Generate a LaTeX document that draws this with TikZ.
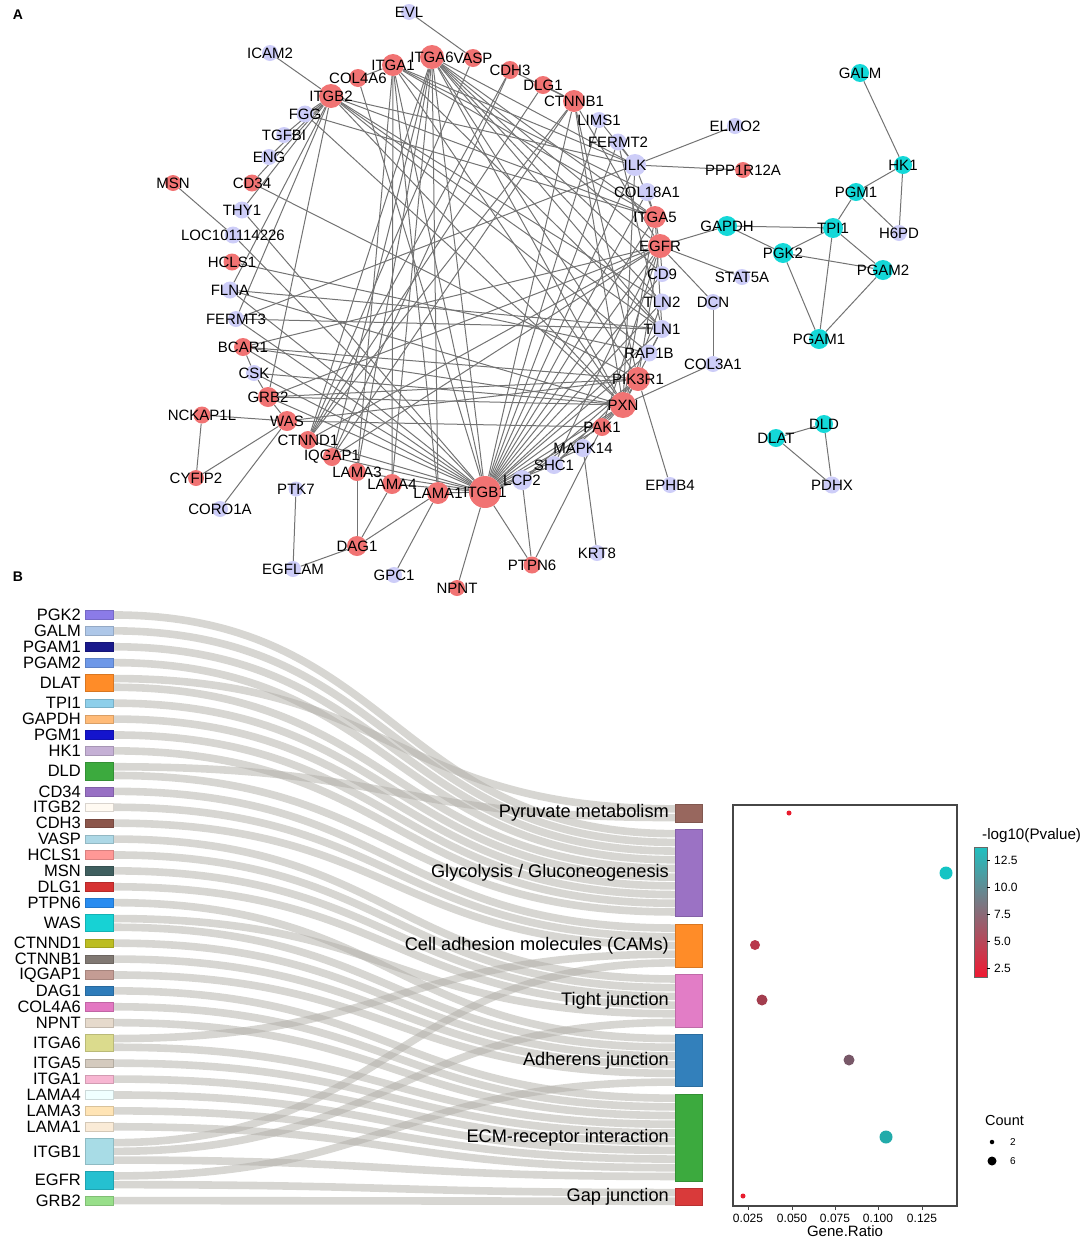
\documentclass[tikz,border=0pt]{standalone}
\usepackage{fontspec}
\setmainfont{Liberation Sans}
\pgfdeclarelayer{bg}
\pgfsetlayers{bg,main}
% network colours
\definecolor{nred}{RGB}{241,115,115}
\definecolor{nlav}{RGB}{205,205,248}
\definecolor{ncy}{RGB}{20,216,216}
\definecolor{edgec}{RGB}{115,115,115}
\definecolor{flowc}{RGB}{175,173,166}
% sankey left colours
\definecolor{cPGKtwo}{RGB}{139,123,232}
\definecolor{cGALM}{RGB}{174,199,232}
\definecolor{cPGAMone}{RGB}{25,25,140}
\definecolor{cPGAMtwo}{RGB}{110,152,232}
\definecolor{cDLAT}{RGB}{255,140,40}
\definecolor{cTPIone}{RGB}{142,207,234}
\definecolor{cGAPDH}{RGB}{255,187,120}
\definecolor{cPGMone}{RGB}{20,20,205}
\definecolor{cHKone}{RGB}{197,176,213}
\definecolor{cDLD}{RGB}{60,170,62}
\definecolor{cCDtf}{RGB}{152,112,196}
\definecolor{cITGBtwo}{RGB}{255,250,242}
\definecolor{cCDHthree}{RGB}{140,86,75}
\definecolor{cVASP}{RGB}{173,216,230}
\definecolor{cHCLS}{RGB}{255,152,150}
\definecolor{cMSN}{RGB}{63,95,95}
\definecolor{cDLG}{RGB}{214,50,50}
\definecolor{cPTPN}{RGB}{40,140,240}
\definecolor{cWAS}{RGB}{23,210,212}
\definecolor{cCTNND}{RGB}{188,189,34}
\definecolor{cCTNNB}{RGB}{128,120,114}
\definecolor{cIQGAP}{RGB}{196,156,148}
\definecolor{cDAG}{RGB}{46,124,186}
\definecolor{cCOL}{RGB}{227,119,194}
\definecolor{cNPNT}{RGB}{230,218,204}
\definecolor{cITGAsix}{RGB}{219,219,141}
\definecolor{cITGAfive}{RGB}{212,202,190}
\definecolor{cITGAone}{RGB}{247,182,210}
\definecolor{cLAMAfour}{RGB}{240,255,255}
\definecolor{cLAMAthree}{RGB}{255,228,181}
\definecolor{cLAMAone}{RGB}{250,235,215}
\definecolor{cITGBone}{RGB}{168,220,230}
\definecolor{cEGFR}{RGB}{37,192,208}
\definecolor{cGRB}{RGB}{152,223,138}
% sankey right colours
\definecolor{cPyr}{RGB}{152,103,94}
\definecolor{cGly}{RGB}{155,114,196}
\definecolor{cCAM}{RGB}{255,140,40}
\definecolor{cTJ}{RGB}{226,125,198}
\definecolor{cAJ}{RGB}{51,128,187}
\definecolor{cECM}{RGB}{60,170,62}
\definecolor{cGap}{RGB}{217,58,58}
% dot plot colours
\definecolor{dRed}{RGB}{232,28,46}
\definecolor{dCAM}{RGB}{184,56,76}
\definecolor{dTJ}{RGB}{163,61,78}
\definecolor{dAJ}{RGB}{120,88,104}
\definecolor{dECM}{RGB}{34,171,170}
\definecolor{dGly}{RGB}{20,196,196}
\definecolor{cbTop}{RGB}{32,192,192}
\definecolor{cbMid}{RGB}{118,100,112}
\definecolor{cbBot}{RGB}{240,25,50}
\definecolor{frameC}{RGB}{70,70,70}
\tikzset{
  gn/.style={circle, inner sep=0pt, minimum size=#1},
  rn/.style={gn=#1, fill=nred},
  ln/.style={gn=#1, fill=nlav},
  cn/.style={gn=#1, fill=ncy},
  nl/.style={font=\fontsize{15}{16}\selectfont, inner sep=0pt, text=black},
  ed/.style={draw=edgec, line width=1pt},
  flow/.style={draw=flowc, draw opacity=0.5, line width=7.6pt},
  sbar/.style={rectangle, inner sep=0pt, minimum width=28pt, fill=#1, draw=#1!85!black, line width=0.4pt},
  rbar/.style={rectangle, inner sep=0pt, minimum width=27pt, fill=#1, draw=#1!85!black, line width=0.4pt},
  slbl/.style={anchor=east, inner sep=0pt, font=\fontsize{16.5}{17}\selectfont},
  plbl/.style={anchor=east, inner sep=0pt, font=\fontsize{18.2}{19}\selectfont},
  dot/.style={circle, inner sep=0pt, minimum size=#1},
  tick/.style={inner sep=0pt, font=\fontsize{12}{13}\selectfont},
  panel/.style={inner sep=0pt, font=\fontsize{14}{15}\selectfont\bfseries},
}
\newcommand{\skflow}[2]{\draw[flow] (113,#1) .. controls (394,#1) and (394,#2) .. (675,#2);}
\begin{document}
\begin{tikzpicture}[x=1pt,y=-1pt]
\useasboundingbox (0,0) rectangle (1084,1240);
\node[panel] (pA) at (18,15) {A};
\node[panel] (pB) at (18,577) {B};
% ---------------- network nodes ----------------
\node[rn=22pt,label={[nl]center:ITGA1}] (ITGA1) at (393,65) {};
\node[rn=18pt,label={[nl]center:COL4A6}] (COL4A6) at (358,78) {};
\node[rn=24pt,label={[nl]center:ITGB2}] (ITGB2) at (331,96) {};
\node[rn=24pt,label={[nl]center:ITGA6}] (ITGA6) at (432,57) {};
\node[rn=18pt,label={[nl]center:VASP}] (VASP) at (473,58) {};
\node[rn=18pt,label={[nl]center:CDH3}] (CDH3) at (510,70) {};
\node[rn=18pt,label={[nl]center:DLG1}] (DLG1) at (543,85) {};
\node[rn=22pt,label={[nl]center:CTNNB1}] (CTNNB1) at (574,101) {};
\node[rn=16pt,label={[nl]center:PPP1R12A}] (PPP1R12A) at (743,170) {};
\node[rn=22pt,label={[nl]center:ITGA5}] (ITGA5) at (655,217) {};
\node[rn=24pt,label={[nl]center:EGFR}] (EGFR) at (660,246) {};
\node[rn=17pt,label={[nl]center:CD34}] (CD34) at (252,183) {};
\node[rn=16pt,label={[nl]center:MSN}] (MSN) at (173,183) {};
\node[rn=17pt,label={[nl]center:HCLS1}] (HCLS1) at (232,262) {};
\node[rn=18pt,label={[nl]center:BCAR1}] (BCAR1) at (243,347) {};
\node[rn=20pt,label={[nl]center:GRB2}] (GRB2) at (268,397) {};
\node[rn=17pt,label={[nl]center:NCKAP1L}] (NCKAP1L) at (202,415) {};
\node[rn=20pt,label={[nl]center:WAS}] (WAS) at (287,421) {};
\node[rn=18pt,label={[nl]center:CTNND1}] (CTNND1) at (308,440) {};
\node[rn=18pt,label={[nl]center:IQGAP1}] (IQGAP1) at (332,457) {};
\node[rn=18pt,label={[nl]center:LAMA3}] (LAMA3) at (357,472) {};
\node[rn=20pt,label={[nl]center:LAMA4}] (LAMA4) at (392,484) {};
\node[rn=22pt,label={[nl]center:LAMA1}] (LAMA1) at (438,493) {};
\node[rn=32pt,label={[nl]center:ITGB1}] (ITGB1) at (485,492) {};
\node[rn=16pt,label={[nl]center:CYFIP2}] (CYFIP2) at (196,478) {};
\node[rn=20pt,label={[nl]center:DAG1}] (DAG1) at (357,546) {};
\node[rn=17pt,label={[nl]center:PTPN6}] (PTPN6) at (532,565) {};
\node[rn=16pt,label={[nl]center:NPNT}] (NPNT) at (457,588) {};
\node[rn=24pt,label={[nl]center:PIK3R1}] (PIK3R1) at (638,379) {};
\node[rn=26pt,label={[nl]center:PXN}] (PXN) at (623,405) {};
\node[rn=18pt,label={[nl]center:PAK1}] (PAK1) at (602,427) {};
\node[ln=16pt,label={[nl]center:EVL}] (EVL) at (409,12) {};
\node[ln=16pt,label={[nl]center:ICAM2}] (ICAM2) at (270,53) {};
\node[ln=17pt,label={[nl]center:FGG}] (FGG) at (305,114) {};
\node[ln=16pt,label={[nl]center:TGFBI}] (TGFBI) at (284,135) {};
\node[ln=16pt,label={[nl]center:ENG}] (ENG) at (269,157) {};
\node[ln=17pt,label={[nl]center:THY1}] (THY1) at (242,210) {};
\node[ln=17pt,label={[nl]center:LOC101114226}] (LOC101114226) at (233,235) {};
\node[ln=17pt,label={[nl]center:FLNA}] (FLNA) at (230,290) {};
\node[ln=16pt,label={[nl]center:FERMT3}] (FERMT3) at (236,319) {};
\node[ln=16pt,label={[nl]center:CSK}] (CSK) at (254,373) {};
\node[ln=16pt,label={[nl]center:CORO1A}] (CORO1A) at (220,509) {};
\node[ln=15pt,label={[nl]center:PTK7}] (PTK7) at (296,489) {};
\node[ln=16pt,label={[nl]center:EGFLAM}] (EGFLAM) at (293,569) {};
\node[ln=16pt,label={[nl]center:GPC1}] (GPC1) at (394,575) {};
\node[ln=16pt,label={[nl]center:LIMS1}] (LIMS1) at (599,120) {};
\node[ln=17pt,label={[nl]center:FERMT2}] (FERMT2) at (618,142) {};
\node[ln=22pt,label={[nl]center:ILK}] (ILK) at (635,165) {};
\node[ln=16pt,label={[nl]center:ELMO2}] (ELMO2) at (735,126) {};
\node[ln=18pt,label={[nl]center:COL18A1}] (COL18A1) at (647,192) {};
\node[ln=16pt,label={[nl]center:CD9}] (CD9) at (662,274) {};
\node[ln=16pt,label={[nl]center:STAT5A}] (STAT5A) at (742,277) {};
\node[ln=17pt,label={[nl]center:TLN2}] (TLN2) at (662,302) {};
\node[ln=16pt,label={[nl]center:DCN}] (DCN) at (713,302) {};
\node[ln=18pt,label={[nl]center:TLN1}] (TLN1) at (662,329) {};
\node[ln=17pt,label={[nl]center:RAP1B}] (RAP1B) at (649,353) {};
\node[ln=16pt,label={[nl]center:COL3A1}] (COL3A1) at (713,364) {};
\node[ln=18pt,label={[nl]center:MAPK14}] (MAPK14) at (583,448) {};
\node[ln=18pt,label={[nl]center:SHC1}] (SHC1) at (554,465) {};
\node[ln=20pt,label={[nl]center:LCP2}] (LCP2) at (522,480) {};
\node[ln=16pt,label={[nl]center:EPHB4}] (EPHB4) at (670,485) {};
\node[ln=16pt,label={[nl]center:KRT8}] (KRT8) at (597,553) {};
\node[ln=16pt,label={[nl]center:H6PD}] (H6PD) at (899,233) {};
\node[ln=17pt,label={[nl]center:PDHX}] (PDHX) at (832,485) {};
\node[cn=18pt,label={[nl]center:GALM}] (GALM) at (860,73) {};
\node[cn=18pt,label={[nl]center:HK1}] (HK1) at (903,165) {};
\node[cn=18pt,label={[nl]center:PGM1}] (PGM1) at (856,192) {};
\node[cn=20pt,label={[nl]center:TPI1}] (TPI1) at (833,228) {};
\node[cn=20pt,label={[nl]center:GAPDH}] (GAPDH) at (727,226) {};
\node[cn=20pt,label={[nl]center:PGK2}] (PGK2) at (783,253) {};
\node[cn=20pt,label={[nl]center:PGAM2}] (PGAM2) at (883,270) {};
\node[cn=20pt,label={[nl]center:PGAM1}] (PGAM1) at (819,339) {};
\node[cn=18pt,label={[nl]center:DLD}] (DLD) at (824,424) {};
\node[cn=18pt,label={[nl]center:DLAT}] (DLAT) at (776,438) {};
% ---------------- network edges ----------------
\begin{pgfonlayer}{bg}
\foreach \a/\b in {EVL/VASP, ICAM2/ITGB2, MSN/LOC101114226, ILK/ELMO2, ILK/PPP1R12A, EGFR/GAPDH, EGFR/STAT5A, EGFR/DCN, DCN/COL3A1, COL3A1/PXN, PIK3R1/EPHB4, MAPK14/KRT8, PTPN6/ITGB1, PTPN6/LCP2, PTPN6/PAK1, NPNT/ITGB1, DAG1/LAMA3, DAG1/LAMA4, DAG1/LAMA1, DAG1/EGFLAM, EGFLAM/PTK7, GPC1/LAMA1, NCKAP1L/WAS, NCKAP1L/CYFIP2, CYFIP2/WAS, CORO1A/WAS, BCAR1/CSK, CSK/GRB2, GRB2/WAS,
GALM/HK1, HK1/PGM1, HK1/H6PD, PGM1/H6PD, PGM1/TPI1, GAPDH/TPI1, GAPDH/PGK2, PGK2/TPI1, TPI1/PGAM2, TPI1/PGAM1, PGK2/PGAM2, PGK2/PGAM1, PGAM2/PGAM1, DLAT/DLD, DLAT/PDHX, DLD/PDHX}
  \draw[ed] (\a) -- (\b);
\foreach \a/\b in {ITGB1/LAMA1, ITGB1/LAMA3, ITGB1/LAMA4, ITGB1/LCP2, ITGB1/SHC1, ITGB1/MAPK14, ITGB1/PAK1, ITGB1/PXN, ITGB1/PIK3R1, ITGB1/RAP1B, ITGB1/TLN1, ITGB1/TLN2, ITGB1/CD9, ITGB1/EGFR, ITGB1/ITGA5, ITGB1/COL18A1, ITGB1/ILK, ITGB1/FERMT2, ITGB1/LIMS1, ITGB1/CTNNB1, ITGB1/ITGA6, ITGB1/ITGA1, ITGB1/COL4A6, ITGB1/FLNA, ITGB1/FERMT3, ITGB1/BCAR1, ITGB1/GRB2, ITGB1/CTNND1, ITGB1/IQGAP1, ITGB1/CSK, ITGB1/THY1, ITGB1/LOC101114226,
ITGA6/LAMA1, ITGA6/LAMA3, ITGA6/LAMA4, ITGA6/CTNND1, ITGA6/IQGAP1, ITGA6/EGFR, ITGA6/PXN, ITGA6/PIK3R1, ITGA6/TLN1, ITGA6/TLN2, ITGA6/ILK, ITGA6/CD9, ITGA6/ITGA5,
ITGA1/LAMA1, ITGA1/LAMA3, ITGA1/LAMA4, ITGA1/PXN, ITGA1/TLN1, ITGA1/ILK, ITGA1/ITGA5, ITGA1/COL18A1, ITGA1/COL4A6,
ITGB2/FGG, ITGB2/TGFBI, ITGB2/ENG, ITGB2/CD34, ITGB2/THY1, ITGB2/FLNA, ITGB2/FERMT3, ITGB2/GRB2, ITGB2/ILK, ITGB2/TLN1, ITGB2/TLN2, ITGB2/PXN, ITGB2/ITGA5, ITGB2/RAP1B}
  \draw[ed] (\a) -- (\b);
\foreach \a/\b in {CTNNB1/DLG1, CTNNB1/CDH3, CTNNB1/CTNND1, CTNNB1/IQGAP1, CTNNB1/EGFR, CTNNB1/PIK3R1, CTNNB1/PXN, CDH3/CTNND1, CDH3/IQGAP1, DLG1/CTNND1,
PXN/FLNA, PXN/BCAR1, PXN/CSK, PXN/GRB2, PXN/ILK, PXN/TLN1, PXN/TLN2, PXN/PAK1, PXN/SHC1, PXN/LCP2, PXN/PIK3R1, PXN/FGG,
EGFR/GRB2, EGFR/SHC1, EGFR/PIK3R1, EGFR/CTNND1, EGFR/IQGAP1, EGFR/CD9, EGFR/ITGA5, EGFR/BCAR1, EGFR/PAK1,
PIK3R1/GRB2, PIK3R1/BCAR1, PIK3R1/CD34, PIK3R1/WAS, PIK3R1/SHC1, PIK3R1/LCP2,
ITGA5/ILK, ITGA5/COL18A1, ITGA5/TLN1, ITGA5/PXN, ITGA5/FGG, TLN1/RAP1B, TLN1/FERMT2, TLN1/FERMT3, TLN1/FLNA, ILK/FERMT2, ILK/LIMS1, FERMT3/ILK, HCLS1/RAP1B, WAS/PAK1, VASP/CTNND1}
  \draw[ed] (\a) -- (\b);
\end{pgfonlayer}
% ---------------- sankey flows ----------------
\skflow{614.95}{833.65}
\skflow{630.85}{842.35}
\skflow{646.75}{851.05}
\skflow{662.65}{859.75}
\skflow{678.55}{808.85}
\skflow{687.25}{868.45}
\skflow{703.15}{877.15}
\skflow{719.05}{885.85}
\skflow{734.95}{894.55}
\skflow{750.85}{903.25}
\skflow{766.75}{817.55}
\skflow{775.45}{911.95}
\skflow{791.35}{928.05}
\skflow{807.25}{936.75}
\skflow{823.15}{945.45}
\skflow{839.05}{978.95}
\skflow{854.95}{987.65}
\skflow{870.85}{996.35}
\skflow{886.75}{1005.05}
\skflow{902.65}{1038.55}
\skflow{918.55}{1013.75}
\skflow{927.25}{1047.25}
\skflow{943.15}{1055.95}
\skflow{959.05}{1064.65}
\skflow{974.95}{1073.35}
\skflow{990.85}{1098.15}
\skflow{1006.75}{1106.85}
\skflow{1022.65}{1115.55}
\skflow{1038.55}{954.15}
\skflow{1047.25}{1124.25}
\skflow{1063.15}{1132.95}
\skflow{1079.05}{1141.65}
\skflow{1094.95}{1150.35}
\skflow{1110.85}{1159.05}
\skflow{1126.75}{1167.75}
\skflow{1142.65}{962.85}
\skflow{1151.35}{1022.45}
\skflow{1160.05}{1176.45}
\skflow{1175.95}{1082.05}
\skflow{1184.65}{1192.55}
\skflow{1200.55}{1201.25}
% ---------------- sankey left bars ----------------
\foreach \n/\c/\y/\h in {PGK2/cPGKtwo/614.95/8.7, GALM/cGALM/630.85/8.7, PGAM1/cPGAMone/646.75/8.7, PGAM2/cPGAMtwo/662.65/8.7, DLAT/cDLAT/682.9/17.4, TPI1/cTPIone/703.15/8.7, GAPDH/cGAPDH/719.05/8.7, PGM1/cPGMone/734.95/8.7, HK1/cHKone/750.85/8.7, DLD/cDLD/771.1/17.4, CD34/cCDtf/791.35/8.7, ITGB2/cITGBtwo/807.25/8.7, CDH3/cCDHthree/823.15/8.7, VASP/cVASP/839.05/8.7, HCLS1/cHCLS/854.95/8.7, MSN/cMSN/870.85/8.7, DLG1/cDLG/886.75/8.7, PTPN6/cPTPN/902.65/8.7, WAS/cWAS/922.9/17.4, CTNND1/cCTNND/943.15/8.7, CTNNB1/cCTNNB/959.05/8.7, IQGAP1/cIQGAP/974.95/8.7, DAG1/cDAG/990.85/8.7, COL4A6/cCOL/1006.75/8.7, NPNT/cNPNT/1022.65/8.7, ITGA6/cITGAsix/1042.9/17.4, ITGA5/cITGAfive/1063.15/8.7, ITGA1/cITGAone/1079.05/8.7, LAMA4/cLAMAfour/1094.95/8.7, LAMA3/cLAMAthree/1110.85/8.7, LAMA1/cLAMAone/1126.75/8.7, ITGB1/cITGBone/1151.35/26.1, EGFR/cEGFR/1180.3/17.4, GRB2/cGRB/1200.55/8.7}
{
  \node[sbar=\c, minimum height=\h pt] (s\n) at (99,\y) {};
  \node[slbl] (t\n) at (81,\y) {\n};
}
% ---------------- sankey right bars ----------------
\node[rbar=cPyr, minimum height=17.4pt] (rPyr) at (688.5,813.2) {};
\node[rbar=cGly, minimum height=87pt] (rGly) at (688.5,872.8) {};
\node[rbar=cCAM, minimum height=43.5pt] (rCAM) at (688.5,945.45) {};
\node[rbar=cTJ, minimum height=52.2pt] (rTJ) at (688.5,1000.7) {};
\node[rbar=cAJ, minimum height=52.2pt] (rAJ) at (688.5,1060.3) {};
\node[rbar=cECM, minimum height=87pt] (rECM) at (688.5,1137.3) {};
\node[rbar=cGap, minimum height=17.4pt] (rGap) at (688.5,1196.9) {};
\node[plbl] (lPyr) at (669,813.2) {Pyruvate metabolism};
\node[plbl] (lGly) at (669,872.8) {Glycolysis / Gluconeogenesis};
\node[plbl] (lCAM) at (669,945.45) {Cell adhesion molecules (CAMs)};
\node[plbl] (lTJ) at (669,1000.7) {Tight junction};
\node[plbl] (lAJ) at (669,1060.3) {Adherens junction};
\node[plbl] (lECM) at (669,1137.3) {ECM-receptor interaction};
\node[plbl] (lGap) at (669,1196.9) {Gap junction};
% ---------------- dot plot ----------------
\draw[draw=frameC, line width=1.1pt] (733,805) rectangle (957,1206);
\foreach \x/\t in {748/0.025, 792/0.050, 835/0.075, 878/0.100, 922/0.125}
{
  \draw[draw=frameC, line width=0.9pt] (\x,1206) -- (\x,1210);
  \node[tick] (x\t) at (\x,1218) {\t};
}
\node[inner sep=0pt, font=\fontsize{15}{16}\selectfont] (xlab) at (845,1231) {Gene.Ratio};
\node[dot=5pt, fill=dRed] (dPyr) at (789,813) {};
\node[dot=13pt, fill=dGly] (dGly) at (946,873) {};
\node[dot=10pt, fill=dCAM] (dCAM) at (755,945) {};
\node[dot=11pt, fill=dTJ] (dTJ) at (762,1000) {};
\node[dot=11pt, fill=dAJ] (dAJ) at (849,1060) {};
\node[dot=13pt, fill=dECM] (dECM) at (886,1137) {};
\node[dot=5pt, fill=dRed] (dGap) at (743,1196) {};
% colour bar
\node[anchor=west, inner sep=0pt, font=\fontsize{15.2}{16}\selectfont] (cbt) at (982,836) {-log10(Pvalue)};
\shade[top color=cbTop, middle color=cbMid, bottom color=cbBot] (974,847) rectangle (987,977);
\draw[draw=black!60, line width=0.5pt] (974,847) rectangle (987,977);
\foreach \y/\t in {860/12.5, 887/10.0, 914/7.5, 941/5.0, 968/2.5}
{
  \draw[line width=0.6pt] (987,\y) -- (990,\y);
  \node[tick, anchor=west] (cb\t) at (994,\y) {\t};
}
% count legend
\node[anchor=west, inner sep=0pt, font=\fontsize{14.5}{16}\selectfont] (cntt) at (985,1120) {Count};
\node[dot=4.5pt, fill=black] (cs) at (992,1142) {};
\node[dot=9pt, fill=black] (cl) at (992,1161) {};
\node[anchor=west, inner sep=0pt, font=\fontsize{10}{11}\selectfont] (cst) at (1010,1142) {2};
\node[anchor=west, inner sep=0pt, font=\fontsize{10}{11}\selectfont] (clt) at (1010,1161) {6};
\end{tikzpicture}
\end{document}
